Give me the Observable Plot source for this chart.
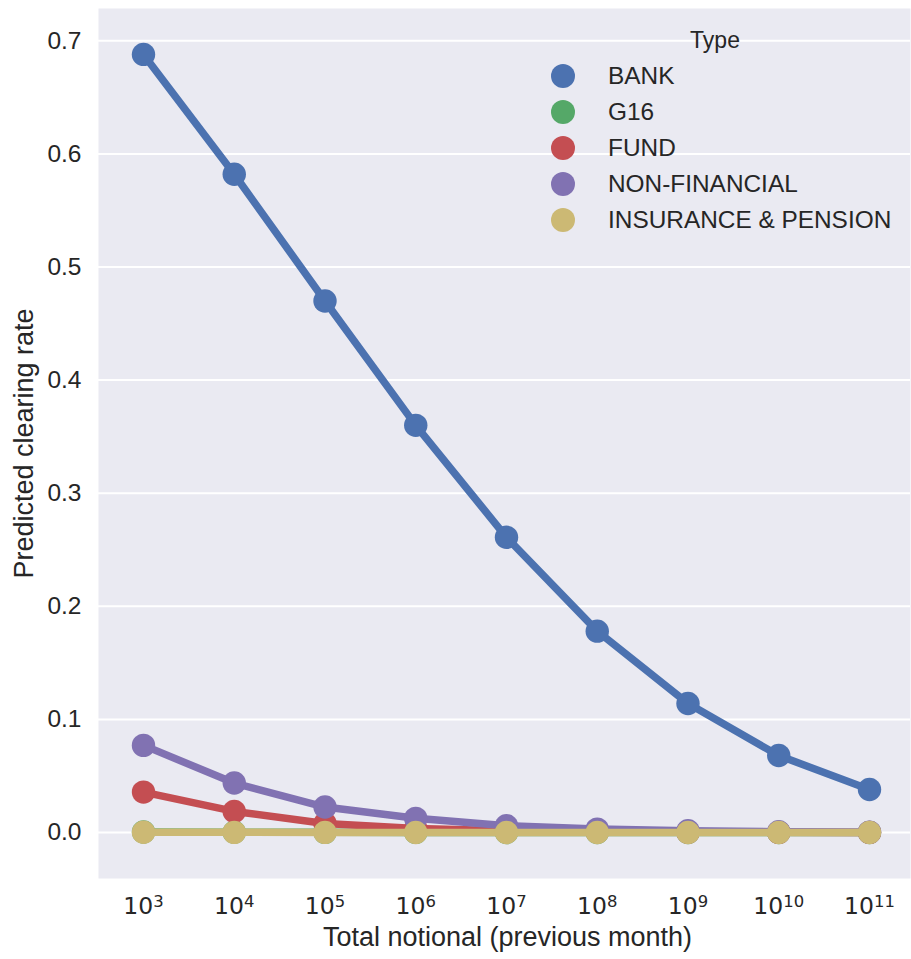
<!DOCTYPE html>
<html>
<head>
<meta charset="utf-8">
<script src="https://cdn.jsdelivr.net/npm/d3@7"></script>
<script src="https://cdn.jsdelivr.net/npm/@observablehq/plot@0.6"></script>
<style>
  body { margin: 0; background: white; }
  #wrap { position: relative; width: 911px; height: 959px; }
  #chart svg [aria-label="x-axis tick label"] text { font-family: "DejaVu Sans", sans-serif; }
  #legend { position: absolute; left: 0; top: 0; font-family: "Liberation Sans", Arial, sans-serif; color: #262626; }
  #legend .title { position: absolute; left: 665px; width: 100px; top: 27px; text-align: center; font-size: 23px; }
  #legend .item { position: absolute; left: 551px; height: 24px; display: flex; align-items: center; white-space: nowrap; font-size: 24.4px; }
  #legend .dot { width: 24px; height: 24px; border-radius: 50%; margin-right: 33px; }
</style>
</head>
<body>
<div id="wrap">
  <div id="chart"></div>
  <div id="legend"></div>
</div>
<script>
const EXPONENTS = [3, 4, 5, 6, 7, 8, 9, 10, 11];
const TICK_LABELS = EXPONENTS.map(e => "10^" + e);
const Y_TICKS = [0, 0.1, 0.2, 0.3, 0.4, 0.5, 0.6, 0.7];

const TYPES = ["BANK", "G16", "FUND", "NON-FINANCIAL", "INSURANCE & PENSION"];
const COLORS = ["#4C72B0", "#55A868", "#C44E52", "#8172B2", "#CCB974"];

// predicted clearing rate per notional bucket
const BANK = [0.688, 0.582, 0.470, 0.360, 0.261, 0.178, 0.114, 0.068, 0.038];
const G16 = [0.0004, 0.0002, 0.0001, 0.00005, 0.00002, 0.00001, 0, 0, 0];
const FUND = [0.0357, 0.0186, 0.0080, 0.0035, 0.0015, 0.0006, 0.0003, 0.0001, 0.00005];
const NON_FINANCIAL = [0.077, 0.0437, 0.0225, 0.0125, 0.006, 0.003, 0.0015, 0.0007, 0.0003];
const INSURANCE = [0.0002, 0.0001, 0.00005, 0.00002, 0.00001, 0, 0, 0, 0];

const SERIES = [BANK, G16, FUND, NON_FINANCIAL, INSURANCE];

const rows = TYPES.flatMap((type, i) =>
  SERIES[i].map((v, j) => ({ type, x: TICK_LABELS[j], rate: v }))
);

// seaborn draws line then markers for each hue level in order
const seriesMarks = TYPES.flatMap(type => {
  const data = rows.filter(r => r.type === type);
  return [
    Plot.line(data, { x: "x", y: "rate", stroke: "type", strokeWidth: 7.5 }),
    Plot.dot(data, { x: "x", y: "rate", fill: "type", r: 11.7 }),
  ];
});

const plot = Plot.plot({
  width: 911,
  height: 959,
  marginLeft: 98,
  marginRight: 1,
  marginTop: 8,
  marginBottom: 81,
  style: {
    fontFamily: '"Liberation Sans", Arial, sans-serif',
    fontSize: "23px",
    color: "#262626",
    background: "white",
  },
  x: { type: "point", domain: TICK_LABELS, range: [143, 869], padding: 0, round: false },
  y: { domain: [-0.0407, 0.7286] },
  color: { domain: TYPES, range: COLORS },
  marks: [
    Plot.frame({ fill: "#EAEAF2", stroke: null }),
    Plot.gridY({ ticks: Y_TICKS, stroke: "white", strokeOpacity: 1, strokeWidth: 2 }),
    Plot.axisY({ ticks: Y_TICKS, tickFormat: ".1f", tickSize: 0, tickPadding: 17, fontSize: 24.5, label: null }),
    Plot.axisX({ tickSize: 0, tickPadding: 19, fontSize: 23.5, label: null }),
    Plot.text(["Predicted clearing rate"], {
      text: d => d, frameAnchor: "left", textAnchor: "middle", rotate: -90, dx: -74.5, fontSize: 27, fill: "#262626",
    }),
    Plot.text(["Total notional (previous month)"], {
      text: d => d, frameAnchor: "bottom", dx: 3, dy: 67, fontSize: 27, fill: "#262626",
    }),
    ...seriesMarks,
  ],
});
document.getElementById("chart").append(plot);

// turn "10^k" tick labels into 10 with a raised exponent
d3.select(plot).selectAll('[aria-label="x-axis tick label"] text').each(function () {
  const [base, exp] = this.textContent.split("^");
  const t = d3.select(this).text(base);
  t.append("tspan").attr("dy", "-0.42em").attr("font-size", "0.7em").text(exp);
});

const legend = document.getElementById("legend");
const title = document.createElement("div");
title.className = "title";
title.textContent = "Type";
legend.append(title);
TYPES.forEach((t, i) => {
  const item = document.createElement("div");
  item.className = "item";
  item.style.top = (64 + 36 * i) + "px";
  const dot = document.createElement("span");
  dot.className = "dot";
  dot.style.background = COLORS[i];
  const label = document.createElement("span");
  label.textContent = t;
  item.append(dot, label);
  legend.append(item);
});
</script>
</body>
</html>
